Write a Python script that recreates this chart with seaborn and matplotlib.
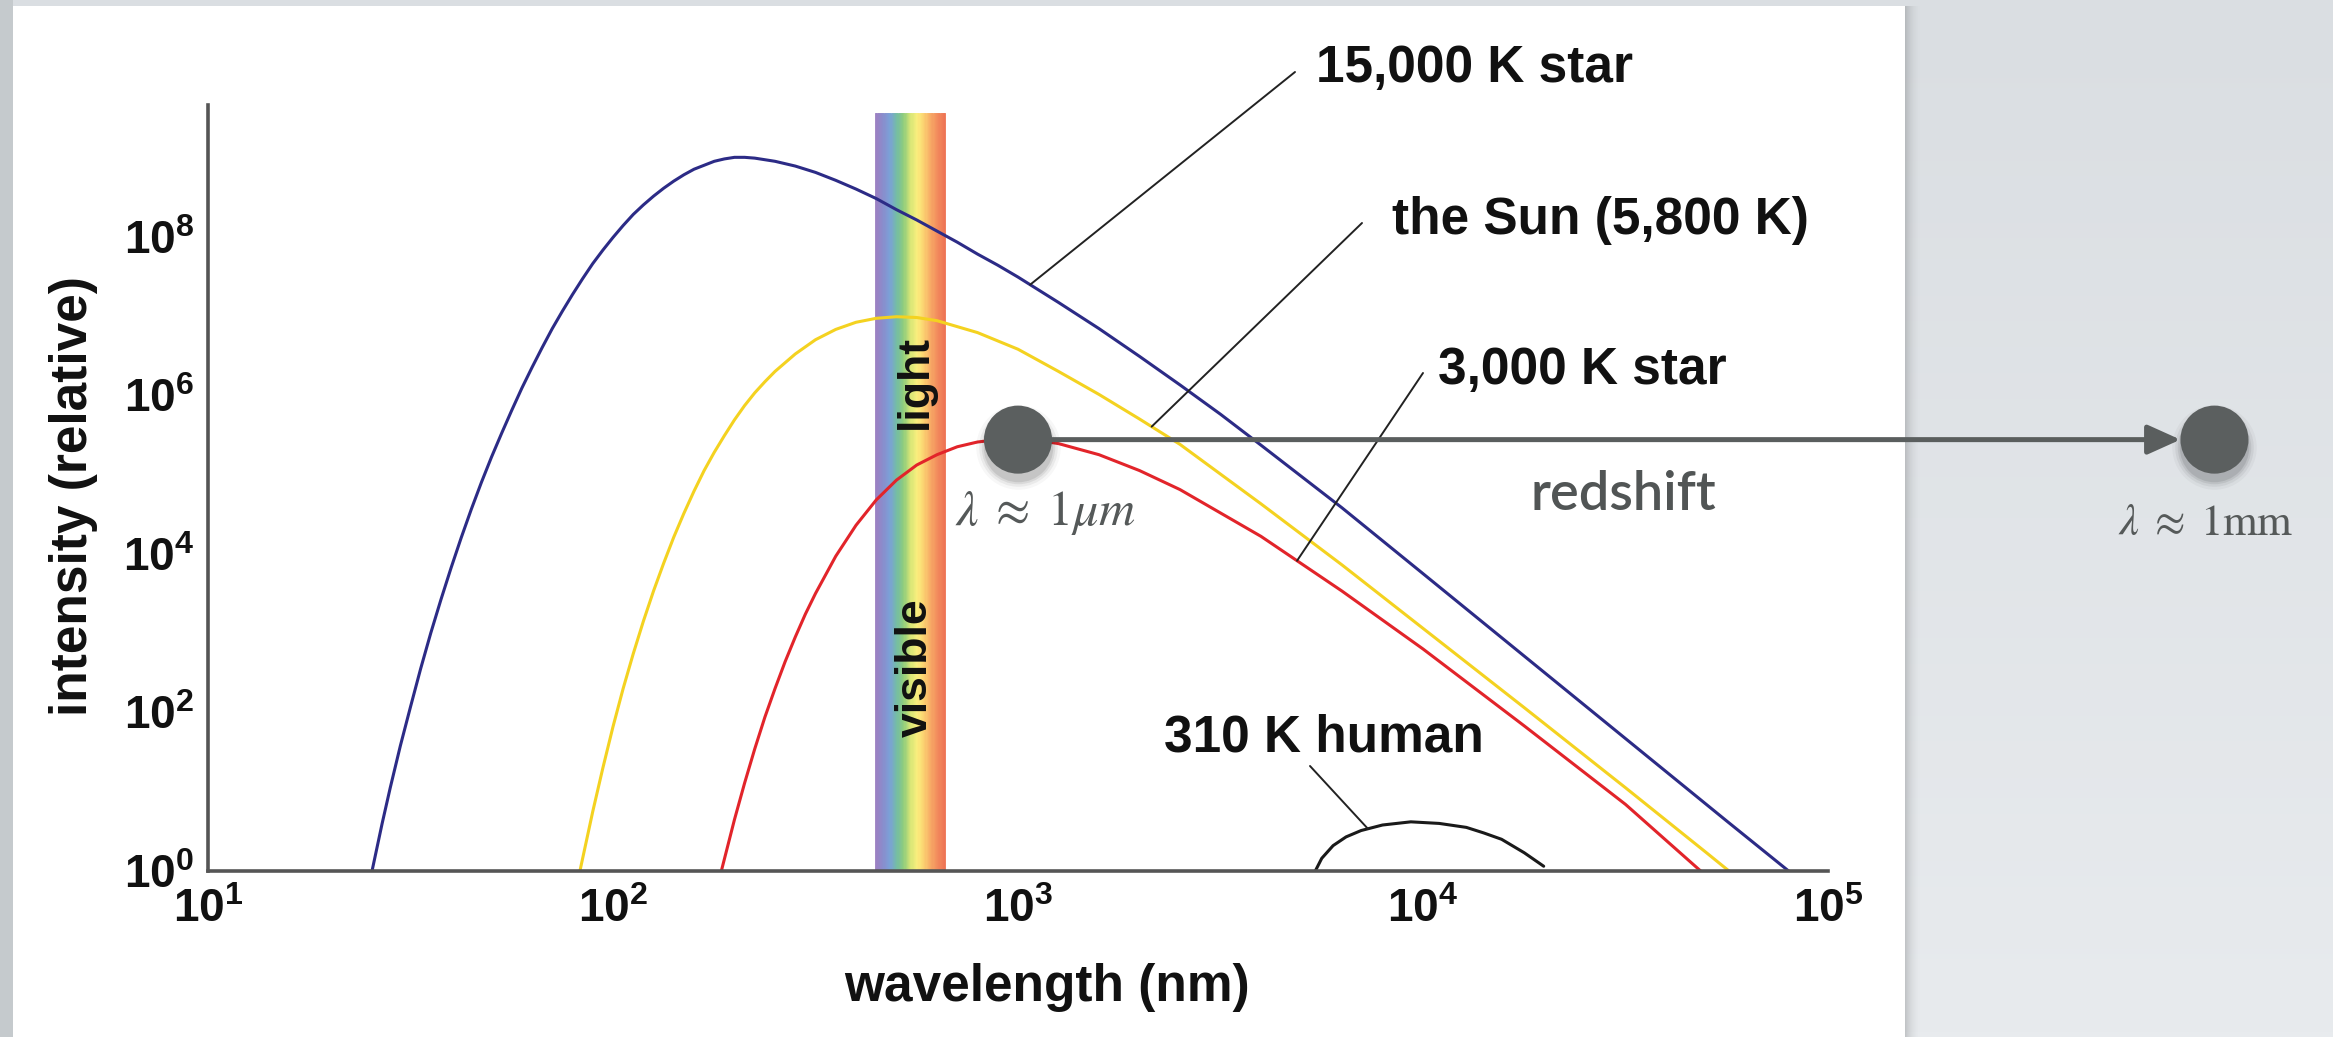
import numpy as np
import pandas as pd
import matplotlib
matplotlib.use("Agg")
import matplotlib.pyplot as plt
import matplotlib.transforms as mtransforms
from matplotlib.patches import Rectangle
from matplotlib.colors import LinearSegmentedColormap
from matplotlib.ticker import FixedLocator, FuncFormatter, NullFormatter
import seaborn as sns

# ---- blackbody curves: log10 wavelength (nm) and log10 relative intensity ----
hot_log_wl = [1.405, 1.43, 1.45, 1.475, 1.50, 1.525, 1.55, 1.575, 1.60, 1.625, 1.65,
              1.675, 1.70, 1.725, 1.75, 1.775, 1.80, 1.825, 1.85, 1.875, 1.90, 1.925,
              1.95, 1.975, 2.00, 2.025, 2.05, 2.075, 2.10, 2.125, 2.15, 2.175, 2.20,
              2.225, 2.25, 2.275, 2.30, 2.325, 2.35, 2.40, 2.45, 2.50, 2.55, 2.60,
              2.65, 2.70, 2.75, 2.80, 2.85, 2.90, 2.95, 3.00, 3.10, 3.20, 3.30, 3.40,
              3.50, 3.60, 3.80, 4.00, 4.25, 4.50, 4.75, 4.91]
hot_log_int = [0.00, 0.60, 1.05, 1.58, 2.07, 2.55, 3.00, 3.42, 3.82, 4.20, 4.56,
               4.90, 5.22, 5.52, 5.81, 6.09, 6.35, 6.60, 6.84, 7.06, 7.27, 7.47,
               7.66, 7.83, 7.99, 8.14, 8.28, 8.40, 8.51, 8.61, 8.70, 8.78, 8.85,
               8.90, 8.95, 8.98, 9.00, 9.00, 8.99, 8.95, 8.89, 8.81, 8.71, 8.60,
               8.48, 8.34, 8.21, 8.07, 7.93, 7.78, 7.64, 7.49, 7.17, 6.84, 6.49, 6.13,
               5.76, 5.37, 4.58, 3.75, 2.71, 1.67, 0.63, -0.03]

sun_log_wl = [1.90, 1.92, 1.95, 1.975, 2.00, 2.025, 2.05, 2.075, 2.10, 2.125, 2.15,
              2.175, 2.20, 2.225, 2.25, 2.275, 2.30, 2.325, 2.35, 2.375, 2.40, 2.45,
              2.50, 2.55, 2.60, 2.65, 2.70, 2.75, 2.80, 2.90, 3.00, 3.10, 3.20, 3.30,
              3.40, 3.60, 3.80, 4.00, 4.25, 4.50, 4.70, 4.77]
sun_log_int = [-0.47, 0.04, 0.75, 1.30, 1.82, 2.30, 2.74, 3.15, 3.53, 3.88, 4.21,
               4.51, 4.79, 5.05, 5.28, 5.49, 5.69, 5.87, 6.03, 6.17, 6.30, 6.52,
               6.70, 6.83, 6.92, 6.97, 6.99, 6.98, 6.94, 6.79, 6.58, 6.30, 6.01, 5.70,
               5.38, 4.63, 3.86, 3.06, 2.06, 1.05, 0.23, -0.06]

cool_log_wl = [2.26, 2.30, 2.325, 2.35, 2.375, 2.40, 2.425, 2.45, 2.475, 2.50, 2.55,
               2.60, 2.65, 2.70, 2.75, 2.80, 2.85, 2.90, 2.95, 3.00, 3.05, 3.10, 3.20,
               3.30, 3.40, 3.60, 3.80, 4.00, 4.25, 4.50, 4.69]
cool_log_int = [-0.15, 0.65, 1.11, 1.54, 1.94, 2.30, 2.64, 2.95, 3.24, 3.50, 3.97,
                4.36, 4.68, 4.93, 5.12, 5.25, 5.35, 5.41, 5.44, 5.45, 5.43, 5.39, 5.25,
                5.05, 4.81, 4.22, 3.53, 2.80, 1.83, 0.84, -0.02]

human_log_wl = [3.732, 3.75, 3.778, 3.81, 3.847, 3.90, 3.97, 4.04, 4.107, 4.15, 4.194,
                4.25, 4.298]
human_log_int = [-0.02, 0.16, 0.32, 0.43, 0.51, 0.58, 0.62, 0.60, 0.55, 0.48, 0.40,
                 0.23, 0.06]

curve_names = ["15,000 K star", "the Sun (5,800 K)", "3,000 K star", "310 K human"]
curve_colors = ["#2c2b86", "#f4d220", "#e2242a", "#1a1a1a"]

# leader lines: wavelength (log10 nm) where each label's line touches its curve
leader_log_wl = [3.03, 3.33, 3.689, 3.864]

# visible band
visible_band_nm = [444, 661]
visible_band_top_log = 9.56
spectrum_colors = ["#9c80c2", "#8a8ccc", "#7ba0d8", "#74bca6", "#8dcc7c", "#d6e676",
                   "#fbef7e", "#fbd070", "#f7a865", "#f28a5c", "#ee7555"]

# the redshifted peak
shift_wl_nm = [1.0e3, 9.0e5]
shift_log_int = [5.44, 5.44]

# axis ticks (powers of ten)
x_major_exp = [1, 2, 3, 4, 5]
x_minor_exp = [1.5, 2.5, 3.5, 4.5]
y_major_exp = [0, 2, 4, 6, 8]
y_minor_exp = [1, 3, 5, 7, 9]

# ---------------------------------------------------------------------------
sns.set_theme(style="white")
plt.rcParams["font.family"] = ["Liberation Sans", "DejaVu Sans"]
plt.rcParams["mathtext.fontset"] = "custom"
plt.rcParams["mathtext.rm"] = "Liberation Sans:bold"
plt.rcParams["mathtext.it"] = "Liberation Sans:bold:italic"
plt.rcParams["mathtext.bf"] = "Liberation Sans:bold"

W, H = 2333, 1037
fig = plt.figure(figsize=(W / 100, H / 100), dpi=100)


def fx(px):
    return px / W


def fy(py):
    return 1 - py / H


# slide background with the white card
bg = fig.add_axes([0, 0, 1, 1], zorder=-10)
top_col = np.array([0xda, 0xde, 0xe2]) / 255
bot_col = np.array([0xe8, 0xeb, 0xee]) / 255
t = np.linspace(0, 1, 200)[:, None, None]
grad = np.repeat(top_col * (1 - t) + bot_col * t, 4, axis=1)
bg.imshow(grad, extent=[0, 1, 0, 1], aspect="auto", origin="upper")
bg.set_xlim(0, 1)
bg.set_ylim(0, 1)
bg.axis("off")
bg.add_patch(Rectangle((0, 0), fx(13), 1, color="#c5cacd", lw=0))
for i in range(16):
    bg.add_patch(Rectangle((fx(1905 + i), 0), fx(1), 1 - 6 / H, color="black",
                           alpha=0.16 * (1 - i / 16) ** 2, lw=0))
bg.add_patch(Rectangle((fx(13), 0), fx(1905 - 13), 1 - 6 / H, color="white", lw=0))

# main axes
ax = fig.add_axes([fx(208), fy(871), fx(1620), 766 / H], zorder=1)
ax.patch.set_alpha(0)

# visible band drawn as a spectrum of thin strips
spec = LinearSegmentedColormap.from_list("spectrum", spectrum_colors)
edges = np.logspace(np.log10(visible_band_nm[0]), np.log10(visible_band_nm[1]), 61)
for i in range(len(edges) - 1):
    c = spec(i / (len(edges) - 2))
    ax.fill_between([edges[i], edges[i + 1]], 1, 10 ** visible_band_top_log,
                    color=c, edgecolor=c, lw=0.6, zorder=1)

# curves
frames = []
for name, lw_, li_ in zip(curve_names,
                          [hot_log_wl, sun_log_wl, cool_log_wl, human_log_wl],
                          [hot_log_int, sun_log_int, cool_log_int, human_log_int]):
    frames.append(pd.DataFrame({"wavelength": np.power(10.0, lw_),
                                "intensity": np.power(10.0, li_),
                                "curve": name}))
df = pd.concat(frames, ignore_index=True)
sns.lineplot(data=df, x="wavelength", y="intensity", hue="curve",
             hue_order=curve_names, palette=dict(zip(curve_names, curve_colors)),
             estimator=None, sort=False, linewidth=2.2, legend=False, ax=ax,
             zorder=2)

ax.set_xscale("log")
ax.set_yscale("log")

# redshift arrow and the two peak markers
peak_y = np.power(10.0, shift_log_int)
ax.annotate("", xy=(shift_wl_nm[1], peak_y[1]), xytext=(shift_wl_nm[0], peak_y[0]),
            xycoords="data", annotation_clip=False,
            arrowprops=dict(arrowstyle="-|>,head_length=1.0,head_width=0.45",
                            color="#5a5e5e", lw=3.6, shrinkA=0, shrinkB=24.5,
                            mutation_scale=20), zorder=5)
shadow_tr = mtransforms.offset_copy(ax.transData, fig=fig, x=0, y=-7, units="dots")
for s_, a_ in [(3700, 0.03), (3200, 0.05), (2800, 0.07), (2500, 0.09)]:
    ax.scatter(shift_wl_nm, peak_y, s=s_, color="black", alpha=a_, linewidths=0,
               transform=shadow_tr, clip_on=False, zorder=4)
sns.scatterplot(x=shift_wl_nm, y=peak_y, s=2400, color="#5b5f5f", edgecolor="none",
                linewidth=0, clip_on=False, zorder=6, legend=False, ax=ax)

ax.set_xlim(10, 1e5)
ax.set_ylim(1, 10 ** 9.66)

# axes styling
for side in ["top", "right"]:
    ax.spines[side].set_visible(False)
for side in ["left", "bottom"]:
    ax.spines[side].set_color("#555555")
    ax.spines[side].set_linewidth(2.6)

pow_fmt = FuncFormatter(lambda v, pos: "$10^{%d}$" % int(round(np.log10(v))))
ax.xaxis.set_major_locator(FixedLocator([10.0 ** e for e in x_major_exp]))
ax.xaxis.set_minor_locator(FixedLocator([10.0 ** e for e in x_minor_exp]))
ax.yaxis.set_major_locator(FixedLocator([10.0 ** e for e in y_major_exp]))
ax.yaxis.set_minor_locator(FixedLocator([10.0 ** e for e in y_minor_exp]))
ax.xaxis.set_major_formatter(pow_fmt)
ax.yaxis.set_major_formatter(pow_fmt)
ax.xaxis.set_minor_formatter(NullFormatter())
ax.yaxis.set_minor_formatter(NullFormatter())
ax.tick_params(axis="x", which="both", direction="in", length=22, width=1.8,
               color="#555555", labelcolor="#111111", labelsize=33, pad=12)
ax.tick_params(axis="y", which="major", direction="in", length=21, width=1.8,
               color="#555555", labelcolor="#111111", labelsize=33, pad=10)
ax.tick_params(axis="y", which="minor", direction="in", length=12, width=1.8,
               color="#555555")

ax.set_xlabel("wavelength (nm)", fontsize=37, fontweight="bold", color="#111111")
ax.xaxis.set_label_coords((1047 - 208) / 1620, (871 - 988) / 766)
ax.xaxis.label.set_va("center")
ax.set_ylabel("intensity (relative)", fontsize=37, fontweight="bold", color="#111111")
ax.yaxis.set_label_coords((73 - 208) / 1620, (871 - 496) / 766)
ax.yaxis.label.set_va("center")

# curve labels with leader lines
label_px = [(1316, 82), (1392, 234), (1438, 384), (1164, 751)]
leader_px = [(1295, 72), (1362, 223), (1423, 373), (1310, 766)]
curve_data = [(hot_log_wl, hot_log_int), (sun_log_wl, sun_log_int),
              (cool_log_wl, cool_log_int), (human_log_wl, human_log_int)]
for name, (tx, ty), (lx, ly), lwl, (cw, ci) in zip(curve_names, label_px, leader_px,
                                                   leader_log_wl, curve_data):
    fig.text(fx(tx), fy(ty), name, ha="left", va="baseline", fontsize=37,
             fontweight="bold", color="#111111")
    yv = 10 ** np.interp(lwl, cw, ci)
    ax.annotate("", xy=(10 ** lwl, yv), xycoords="data",
                xytext=(lx, H - ly), textcoords="figure pixels",
                annotation_clip=False,
                arrowprops=dict(arrowstyle="-", color="#222222", lw=1.4,
                                shrinkA=0, shrinkB=0), zorder=3)

fig.text(fx(915), fy(382), "light", rotation=90, ha="center", va="center",
         fontsize=32, fontweight="bold", color="#111111")
fig.text(fx(915), fy(668), "visible", rotation=90, ha="center", va="center",
         fontsize=32, fontweight="bold", color="#111111")

fig.text(fx(955), fy(525), r"$\lambda\;\approx\;1\mu m$", ha="left", va="baseline",
         fontsize=36, color="#555959", math_fontfamily="stix")
fig.text(fx(2118), fy(535), r"$\lambda\;\approx\;1\mathrm{mm}$", ha="left",
         va="baseline", fontsize=32, color="#555959", math_fontfamily="stix")
fig.text(fx(1530), fy(510), "redshift", ha="left", va="baseline", fontsize=39,
         fontweight="semibold", family=["Lato", "DejaVu Sans"], color="#515555")

fig.savefig("out.png", dpi=100)
